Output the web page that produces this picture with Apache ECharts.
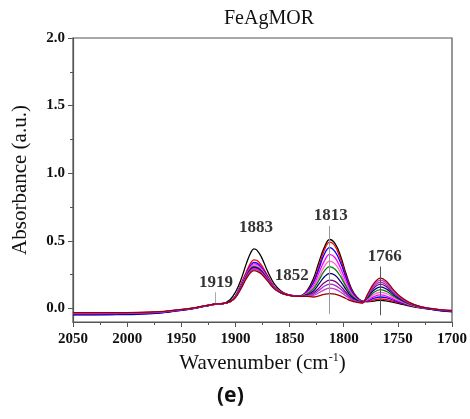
<!DOCTYPE html>
<html>
<head>
<meta charset="utf-8">
<script src="https://cdn.jsdelivr.net/npm/echarts@6/dist/echarts.min.js"></script>
<style>
  html, body { margin: 0; padding: 0; background: #fff; }
  #chart { width: 470px; height: 419px; }
</style>
</head>
<body>
<div id="chart"></div>
<script>
var wn = [2050,2030,2010,1990,1970,1960,1950,1940,1930,1925,1919,1912,
  1905,1900,1895,1890,1886,1883,1880,1876,1870,1864,1858,1852,
  1846,1840,1834,1828,1823,1818,1813,1808,1803,1798,1793,1788,1783,
  1778,1772,1766,1760,1754,1748,1740,1730,1720,1710,1700];

var sBlack = [-0.040,-0.040,-0.038,-0.035,-0.028,-0.020,-0.010,0.000,0.015,0.022,0.030,0.035,
  0.065,0.12,0.21,0.33,0.41,0.44,0.43,0.38,0.27,0.18,0.13,0.105,
  0.095,0.095,0.13,0.22,0.34,0.45,0.51,0.48,0.39,0.26,0.15,0.085,0.055,
  0.05,0.055,0.06,0.055,0.045,0.035,0.02,0.005,-0.005,-0.015,-0.02];
var sRed = [-0.030,-0.032,-0.032,-0.030,-0.024,-0.017,-0.008,0.002,0.016,0.024,0.032,0.036,
  0.05,0.09,0.18,0.27,0.335,0.36,0.355,0.32,0.24,0.16,0.125,0.105,
  0.095,0.093,0.125,0.20,0.31,0.43,0.49,0.46,0.367,0.245,0.14,0.08,0.054,
  0.05,0.064,0.07,0.065,0.052,0.04,0.024,0.008,-0.003,-0.012,-0.018];
var sBlue = [-0.048,-0.048,-0.046,-0.043,-0.034,-0.025,-0.014,-0.003,0.013,0.022,0.032,0.037,
  0.05,0.09,0.172,0.255,0.318,0.34,0.335,0.303,0.23,0.157,0.122,0.102,
  0.094,0.092,0.12,0.19,0.29,0.40,0.45,0.42,0.34,0.23,0.13,0.077,0.052,
  0.056,0.076,0.085,0.078,0.061,0.045,0.026,0.009,-0.006,-0.018,-0.025];
var sMagenta = [-0.040,-0.040,-0.038,-0.035,-0.028,-0.020,-0.010,0.000,0.015,0.022,0.031,0.036,
  0.05,0.09,0.17,0.25,0.31,0.33,0.325,0.295,0.225,0.155,0.12,0.10,
  0.094,0.092,0.117,0.17,0.26,0.35,0.40,0.375,0.30,0.205,0.12,0.072,0.05,
  0.062,0.088,0.10,0.09,0.069,0.05,0.028,0.01,-0.003,-0.013,-0.02];
var sPink = [-0.038,-0.038,-0.037,-0.034,-0.027,-0.019,-0.010,0.001,0.015,0.022,0.031,0.036,
  0.05,0.088,0.165,0.245,0.30,0.32,0.315,0.287,0.22,0.153,0.118,0.10,
  0.093,0.091,0.11,0.157,0.23,0.31,0.35,0.33,0.266,0.18,0.108,0.068,0.049,
  0.068,0.104,0.12,0.107,0.08,0.056,0.031,0.011,-0.002,-0.012,-0.02];
var sGreen = [-0.040,-0.040,-0.038,-0.035,-0.028,-0.020,-0.010,0.000,0.015,0.022,0.030,0.035,
  0.05,0.087,0.16,0.24,0.295,0.31,0.305,0.28,0.215,0.151,0.117,0.10,
  0.093,0.091,0.107,0.145,0.207,0.276,0.31,0.29,0.237,0.165,0.10,0.064,0.048,
  0.075,0.12,0.14,0.124,0.091,0.063,0.034,0.012,-0.002,-0.012,-0.02];
var sNavy = [-0.045,-0.045,-0.043,-0.040,-0.032,-0.023,-0.013,-0.002,0.014,0.022,0.031,0.036,
  0.05,0.086,0.158,0.237,0.29,0.305,0.30,0.275,0.213,0.15,0.116,0.10,
  0.093,0.091,0.10,0.13,0.18,0.233,0.26,0.245,0.20,0.142,0.088,0.06,0.046,
  0.082,0.136,0.16,0.141,0.102,0.069,0.037,0.013,-0.004,-0.015,-0.022];
var sPurple = [-0.040,-0.040,-0.038,-0.035,-0.028,-0.020,-0.010,0.000,0.015,0.023,0.033,0.037,
  0.05,0.085,0.155,0.235,0.285,0.30,0.295,0.27,0.21,0.15,0.115,0.10,
  0.092,0.09,0.097,0.115,0.15,0.19,0.21,0.20,0.165,0.12,0.077,0.055,0.045,
  0.089,0.152,0.18,0.158,0.113,0.076,0.04,0.014,-0.002,-0.012,-0.02];
var sViolet = [-0.038,-0.038,-0.037,-0.034,-0.027,-0.019,-0.009,0.001,0.016,0.023,0.032,0.036,
  0.05,0.084,0.152,0.23,0.28,0.295,0.29,0.266,0.207,0.148,0.115,0.10,
  0.092,0.09,0.095,0.106,0.133,0.164,0.18,0.171,0.144,0.106,0.071,0.053,0.044,
  0.094,0.164,0.195,0.171,0.121,0.08,0.042,0.015,-0.001,-0.011,-0.018];
var sOrchid = [-0.036,-0.036,-0.035,-0.033,-0.026,-0.018,-0.009,0.001,0.016,0.023,0.031,0.036,
  0.05,0.082,0.148,0.225,0.272,0.29,0.285,0.262,0.204,0.147,0.115,0.10,
  0.092,0.09,0.092,0.097,0.116,0.138,0.15,0.143,0.122,0.092,0.064,0.05,0.042,
  0.10,0.176,0.21,0.184,0.13,0.085,0.045,0.015,0.0,-0.01,-0.016];
var sWine = [-0.030,-0.031,-0.031,-0.029,-0.023,-0.016,-0.007,0.003,0.017,0.024,0.032,0.036,
  0.05,0.08,0.145,0.22,0.265,0.28,0.275,0.255,0.20,0.145,0.115,0.10,
  0.091,0.09,0.09,0.085,0.093,0.104,0.11,0.106,0.093,0.074,0.056,0.046,0.04,
  0.105,0.188,0.225,0.196,0.138,0.09,0.047,0.016,0.0,-0.01,-0.015];

var spectra = [sBlack, sRed, sBlue, sMagenta, sPink, sGreen, sNavy, sPurple, sViolet, sOrchid, sWine];
var colors = ['#000000','#ff0000','#0000ff','#ff00ff','#ff66cc','#008000','#000080','#800080','#9933cc','#cc33cc','#990000'];

// peak annotations
var peakWn = [1919, 1883, 1852, 1813, 1766];
var peakTextX = [1918, 1881, 1848, 1812, 1762];
var peakTextY = [0.19, 0.60, 0.245, 0.69, 0.385];
// guide lines [wavenumber, from, to, colour]
var guides = [[1919, 0.04, 0.12, '#aaaaaa'], [1813, -0.04, 0.61, '#999999'], [1766, -0.05, 0.31, '#555555']];

var yLabels = [0, 0.5, 1.0, 1.5, 2.0];
var yMinorTicks = [0.25, 0.75, 1.25, 1.75];

var serif = 'Liberation Serif';
var chart = echarts.init(document.getElementById('chart'));

var series = spectra.map(function (vals, i) {
  return {
    type: 'line',
    data: wn.map(function (w, j) { return [w, vals[j]]; }),
    smooth: 0.4,
    showSymbol: false,
    lineStyle: { width: 1.3, color: colors[i] },
    itemStyle: { color: colors[i] },
    z: 2
  };
});

series.push({
  type: 'scatter',
  symbolSize: 0,
  data: peakWn.map(function (p, i) { return [peakTextX[i], peakTextY[i], String(p)]; }),
  label: {
    show: true,
    position: 'inside',
    formatter: function (p) { return p.value[2]; },
    fontFamily: serif,
    fontWeight: 'bold',
    fontSize: 17,
    color: '#000'
  },
  markLine: {
    silent: true,
    symbol: 'none',
    label: { show: false },
    data: guides.map(function (g) {
      return [{ coord: [g[0], g[1]], lineStyle: { color: g[3], width: 1, type: 'solid' } },
              { coord: [g[0], g[2]] }];
    })
  },
  z: 3
});

var option = {
  animation: false,
  title: {
    text: 'FeAgMOR',
    left: 264,
    textAlign: 'center',
    top: 4,
    textStyle: { fontFamily: serif, fontWeight: 'normal', fontSize: 20, color: '#111' }
  },
  grid: {
    left: 73, right: 16, top: 38, bottom: 97,
    show: true, borderColor: '#555', borderWidth: 1.2
  },
  xAxis: {
    type: 'value',
    inverse: true,
    min: 1700,
    max: 2050,
    interval: 50,
    name: 'Wavenumber (cm{sup|-1})',
    nameLocation: 'middle',
    nameGap: 30,
    nameTextStyle: {
      fontFamily: serif, fontSize: 21, color: '#111',
      rich: { sup: { fontFamily: serif, fontSize: 12, color: '#111', verticalAlign: 'top', padding: [0, 0, 10, 0] } }
    },
    axisLine: { onZero: false, lineStyle: { color: '#555', width: 1.2 } },
    axisTick: { inside: false, length: 5, lineStyle: { color: '#555' } },
    minorTick: { show: true, splitNumber: 2, length: 3, lineStyle: { color: '#555' } },
    splitLine: { show: false },
    axisLabel: {
      fontFamily: serif, fontWeight: 'bold', fontSize: 15, color: '#111', margin: 10,
      formatter: function (v) { return String(v); }
    }
  },
  yAxis: [{
    type: 'value',
    min: -0.1,
    max: 2.0,
    name: 'Absorbance (a.u.)',
    nameLocation: 'middle',
    nameGap: 42,
    nameTextStyle: { fontFamily: serif, fontSize: 21, color: '#111' },
    axisLine: { show: true, onZero: false, lineStyle: { color: '#555', width: 1.2 } },
    axisTick: { show: true, length: 5, customValues: yLabels, lineStyle: { color: '#555' } },
    axisLabel: {
      customValues: yLabels, fontFamily: serif, fontWeight: 'bold', fontSize: 15, color: '#111', margin: 8,
      formatter: function (v) { return v.toFixed(1); }
    },
    splitLine: { show: false }
  }, {
    type: 'value',
    position: 'left',
    min: -0.1,
    max: 2.0,
    axisLine: { show: false, onZero: false },
    axisTick: { show: true, length: 3, customValues: yMinorTicks, lineStyle: { color: '#555' } },
    axisLabel: { show: false },
    splitLine: { show: false }
  }],
  graphic: [{
    type: 'text',
    left: 217,
    top: 386,
    style: { text: '(e)', font: 'bold 21px "Noto Sans"', fill: '#111' }
  }],
  series: series
};

chart.setOption(option);
</script>
</body>
</html>
